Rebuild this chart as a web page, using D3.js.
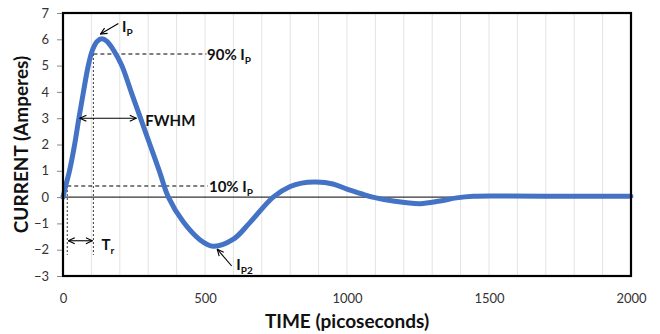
<!DOCTYPE html>
<html lang="en">
<head>
<meta charset="UTF-8">
<script src="https://cdn.jsdelivr.net/npm/d3@7"></script>
<title>Current pulse</title>
<style>
  body { margin: 0; background: #fff; }
  text { font-family: Lato, "Open Sans", sans-serif; }
  .tick text { font-size: 13px; fill: #333; }
  .note { font-size: 15px; font-weight: bold; fill: #111; }
  .title { font-size: 19px; font-weight: bold; fill: #111; }
</style>
</head>
<body>
<script>
// pulse (time in ps, current in A)
const time    = [0, 10, 23, 41, 56, 72, 89, 104, 120, 137, 155, 180, 207, 240, 273, 306, 339, 371,
                 424, 482, 529, 600, 658, 740, 800, 840, 890, 950, 1000, 1050, 1090,
                 1163, 1257, 1327, 1386, 1445, 1540, 1700, 2000]
const current = [0, 0.45, 1.0, 2.0, 3.0, 4.0, 5.0, 5.6, 5.92, 6.02, 5.92, 5.55, 5.0, 4.0, 3.0, 2.0, 1.0, 0,
                 -0.95, -1.62, -1.87, -1.6, -0.97, 0, 0.4, 0.53, 0.57, 0.5, 0.3, 0.13, 0,
                 -0.15, -0.25, -0.15, -0.03, 0.03, 0.04, 0.03, 0.03]

const xTicks = [0, 500, 1000, 1500, 2000]
const yTicks = [-3, -2, -1, 0, 1, 2, 3, 4, 5, 6, 7]
const gridTimes = d3.range(100, 2000, 100)

// annotation levels / times
const level90 = 5.44, level10 = 0.42
const riseStart = 15, riseEnd = 107, dropTo = -2.2
const fwhm = [56, 265], fwhmLevel = 3.0
const trLevel = -1.66

const width = 660, height = 334
const margin = {top: 13, right: 29, bottom: 58, left: 63}

const svg = d3.select("body").append("svg")
  .attr("width", width)
  .attr("height", height)

const x = d3.scaleLinear().domain([0, 2000]).range([margin.left, width - margin.right])
const y = d3.scaleLinear().domain([-3, 7]).range([height - margin.bottom, margin.top])

svg.append("defs").append("marker")
  .attr("id", "arr")
  .attr("viewBox", "0 0 8 8")
  .attr("refX", 7.5).attr("refY", 4)
  .attr("markerWidth", 8).attr("markerHeight", 8)
  .attr("markerUnits", "userSpaceOnUse")
  .attr("orient", "auto-start-reverse")
  .append("path")
  .attr("d", "M1,1 L7.5,4 L1,7")
  .attr("fill", "none")
  .attr("stroke", "#000")
  .attr("stroke-width", 1.1)

// vertical grid
svg.append("g").selectAll("line")
  .data(gridTimes)
  .join("line")
  .attr("x1", d => x(d)).attr("x2", d => x(d))
  .attr("y1", y(7)).attr("y2", y(-3))
  .attr("stroke", "#e3e3e3")
  .attr("stroke-width", 1)

// zero line
svg.append("line")
  .attr("x1", x(0)).attr("x2", x(2000))
  .attr("y1", y(0)).attr("y2", y(0))
  .attr("stroke", "#000").attr("stroke-width", 1)

// dashed guides
const ann = svg.append("g").attr("stroke", "#000").attr("fill", "none")
ann.append("line")
  .attr("x1", x(riseEnd)).attr("x2", x(505))
  .attr("y1", y(level90)).attr("y2", y(level90))
  .attr("stroke-dasharray", "4,3").attr("stroke-width", 1.1)
ann.append("line")
  .attr("x1", x(riseStart)).attr("x2", x(510))
  .attr("y1", y(level10)).attr("y2", y(level10))
  .attr("stroke-dasharray", "4,3").attr("stroke-width", 1.1)
ann.append("line")
  .attr("x1", x(riseStart)).attr("x2", x(riseStart))
  .attr("y1", y(level10)).attr("y2", y(dropTo))
  .attr("stroke-dasharray", "2,2").attr("stroke", "#333")
ann.append("line")
  .attr("x1", x(riseEnd)).attr("x2", x(riseEnd))
  .attr("y1", y(level90)).attr("y2", y(dropTo))
  .attr("stroke-dasharray", "2,2").attr("stroke", "#333")

// pulse
const line = d3.line()
  .x((d, i) => x(time[i]))
  .y(d => y(d))
  .curve(d3.curveCatmullRom.alpha(0.5))

svg.append("path")
  .attr("d", line(current))
  .attr("fill", "none")
  .attr("stroke", "#4472c4")
  .attr("stroke-width", 5)
  .attr("stroke-linejoin", "round")
  .attr("stroke-linecap", "round")

// arrows
const arrows = svg.append("g").attr("stroke", "#000").attr("stroke-width", 1.1)
arrows.append("line")
  .attr("x1", x(fwhm[0]) + 1).attr("x2", x(fwhm[1]) - 2)
  .attr("y1", y(fwhmLevel)).attr("y2", y(fwhmLevel))
  .attr("marker-start", "url(#arr)").attr("marker-end", "url(#arr)")
arrows.append("line")
  .attr("x1", x(riseStart) + 1).attr("x2", x(riseEnd) - 1)
  .attr("y1", y(trLevel)).attr("y2", y(trLevel))
  .attr("marker-start", "url(#arr)").attr("marker-end", "url(#arr)")
arrows.append("line")
  .attr("x1", x(195)).attr("y1", y(6.6))
  .attr("x2", x(132)).attr("y2", y(6.2))
  .attr("marker-end", "url(#arr)")
arrows.append("line")
  .attr("x1", x(594)).attr("y1", y(-2.62))
  .attr("x2", x(543)).attr("y2", y(-1.98))
  .attr("marker-end", "url(#arr)")

// frame
svg.append("rect")
  .attr("x", x(0)).attr("y", y(7))
  .attr("width", x(2000) - x(0)).attr("height", y(-3) - y(7))
  .attr("fill", "none").attr("stroke", "#000").attr("stroke-width", 2.2)

// axes
const yAxis = svg.append("g")
  .attr("transform", `translate(${x(0) - 1},0)`)
  .call(d3.axisLeft(y).tickValues(yTicks).tickSize(5).tickPadding(8))
yAxis.select(".domain").remove()
yAxis.selectAll(".tick line").attr("stroke", "#888")

const xAxis = svg.append("g")
  .attr("transform", `translate(0,${y(-3)})`)
  .call(d3.axisBottom(x).tickValues(xTicks).tickFormat(d3.format("d")).tickSize(0).tickPadding(18))
xAxis.select(".domain").remove()

// labels with subscripts
function note(t, v, main, sub) {
  const tx = svg.append("text").attr("class", "note")
    .attr("x", x(t)).attr("y", y(v))
  tx.append("tspan").text(main)
  if (sub) tx.append("tspan").attr("dy", 4).attr("font-size", 10).text(sub)
}
note(507, 5.23, "90% I", "P")
note(514, 0.2, "10% I", "P")
note(290, 2.7, "FWHM")
note(136, -2.0, "T", "r")
note(208, 6.28, "I", "P")
note(610, -2.78, "I", "P2")

// axis titles
svg.append("text").attr("class", "title")
  .attr("x", x(1000)).attr("y", 328)
  .attr("text-anchor", "middle")
  .text("TIME (picoseconds)")
svg.append("text").attr("class", "title")
  .attr("transform", `translate(28,${y(2)}) rotate(-90)`)
  .attr("text-anchor", "middle")
  .text("CURRENT (Amperes)")
</script>
</body>
</html>
